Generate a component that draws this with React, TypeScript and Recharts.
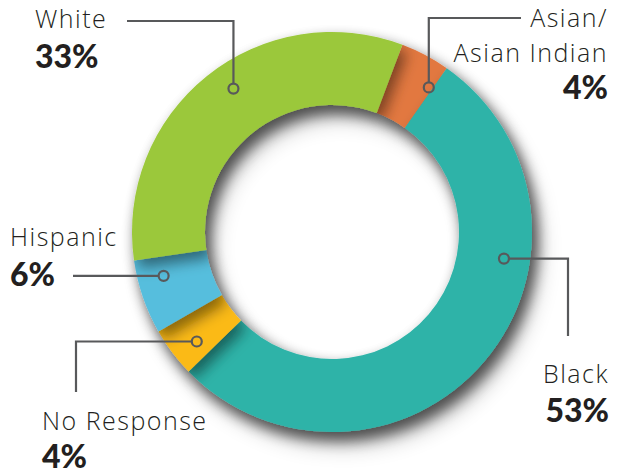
import { PieChart, Pie, Cell } from 'recharts';

// survey breakdown, clockwise from the orange slice
const categories = ['Asian/Asian Indian', 'Black', 'No Response', 'Hispanic', 'White'];
const categoryLines = [['Asian/', 'Asian Indian'], ['Black'], ['No Response'], ['Hispanic'], ['White']];
const values = [4, 53, 4, 6, 33];
const colors = ['#E2783F', '#2FB3A8', '#FBBA16', '#57BEDD', '#9BC83B'];

const data = categories.map((name, i) => ({ name, value: values[i] }));

const INK = '#231F20';
const LINE = '#58595B';
const NAME_FONT = '"Open Sans", "Noto Sans", sans-serif';
const PCT_FONT = 'Lato, "Noto Sans", sans-serif';

type Step = { axis: 'x' | 'y'; to: number };
interface Callout {
  shift: number; // degrees off the slice's mid angle
  route: Step[];
  anchor: 'start' | 'end';
  x: number;
  nameY: number[];
  pctY: number;
}

const callouts: Callout[] = [
  { shift: -6, route: [{ axis: 'y', to: 18 }, { axis: 'x', to: 521 }], anchor: 'end', x: 608, nameY: [27, 62], pctY: 99 },
  { shift: 31.6, route: [{ axis: 'x', to: 568 }, { axis: 'y', to: 336 }], anchor: 'end', x: 609, nameY: [383], pctY: 422 },
  { shift: 2, route: [{ axis: 'x', to: 76 }, { axis: 'y', to: 392 }], anchor: 'start', x: 42, nameY: [430], pctY: 468 },
  { shift: -4.4, route: [{ axis: 'x', to: 73 }], anchor: 'start', x: 10, nameY: [246], pctY: 286 },
  { shift: -4.3, route: [{ axis: 'y', to: 21 }, { axis: 'x', to: 127 }], anchor: 'start', x: 35, nameY: [28], pctY: 68 },
];

const RAD = Math.PI / 180;
const DOT_R = 5;

function renderCallout(props: any) {
  const { cx, cy, midAngle, outerRadius, index, value } = props;
  const c = callouts[index];
  if (!c) return null;
  const a = (midAngle + c.shift) * RAD;
  const r = outerRadius - 26;
  const dx = cx + r * Math.cos(-a);
  const dy = cy + r * Math.sin(-a);

  // start the line at the rim of the dot
  const first = c.route[0];
  let sx = dx;
  let sy = dy;
  if (first.axis === 'x') sx += Math.sign(first.to - dx) * DOT_R;
  else sy += Math.sign(first.to - dy) * DOT_R;

  let d = `M${sx},${sy}`;
  let px = dx;
  let py = dy;
  c.route.forEach((s) => {
    if (s.axis === 'x') px = s.to;
    else py = s.to;
    d += ` L${px},${py}`;
  });

  return (
    <g key={`callout-${index}`}>
      <path d={d} fill="none" stroke={LINE} strokeWidth={2.2} />
      <circle cx={dx} cy={dy} r={DOT_R} fill="none" stroke={LINE} strokeWidth={2.2} />
      {categoryLines[index].map((line, j) => (
        <text key={j} x={c.x} y={c.nameY[j]} textAnchor={c.anchor} fill={INK}
          fontFamily={NAME_FONT} fontSize={25} fontWeight={300} letterSpacing={1.5}>
          {line}
        </text>
      ))}
      <text x={c.x} y={c.pctY} textAnchor={c.anchor} fill={INK}
        fontFamily={PCT_FONT} fontSize={32} fontWeight={900}>
        {`${value}%`}
      </text>
    </g>
  );
}

export default function App() {
  const start = 69.4;
  return (
    <div style={{ position: 'absolute', left: 0, top: 0, width: 619, height: 474, background: '#fff' }}>
      <style>{'.donut-ring { filter: url(#ringShadow); }'}</style>
      <PieChart width={619} height={474} margin={{ top: 0, right: 0, bottom: 0, left: 0 }}>
        <defs>
          <filter id="ringShadow" x="-30%" y="-30%" width="160%" height="160%">
            <feDropShadow dx={5} dy={8} stdDeviation={7} floodColor="#000" floodOpacity={0.45} />
          </filter>
        </defs>
        <Pie
          className="donut-ring"
          data={data}
          dataKey="value"
          nameKey="name"
          cx={332}
          cy={232}
          innerRadius={127}
          outerRadius={200}
          startAngle={start}
          endAngle={start - 360}
          stroke="none"
          isAnimationActive={false}
        >
          {data.map((_, i) => (
            <Cell key={i} fill={colors[i]} />
          ))}
        </Pie>
        <Pie
          data={data}
          dataKey="value"
          nameKey="name"
          cx={332}
          cy={232}
          innerRadius={127}
          outerRadius={200}
          startAngle={start}
          endAngle={start - 360}
          fill="none"
          stroke="none"
          label={renderCallout}
          labelLine={false}
          isAnimationActive={false}
        />
      </PieChart>
    </div>
  );
}
